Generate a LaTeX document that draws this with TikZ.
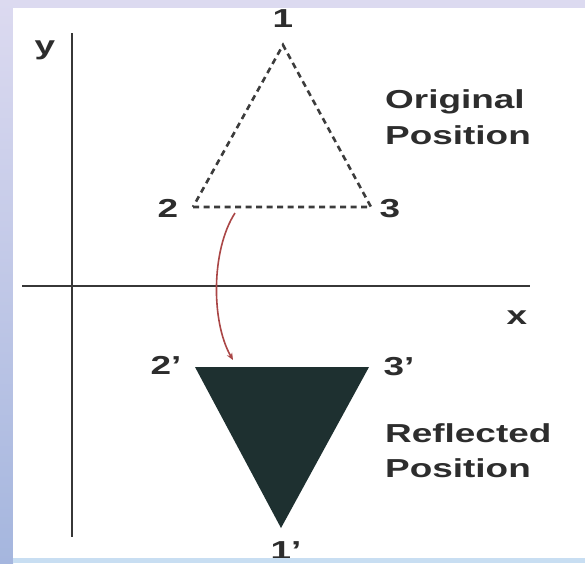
\documentclass[tikz,border=0pt]{standalone}
\usepackage{fontspec}
\setmainfont{Liberation Sans}
\usetikzlibrary{arrows.meta}
\newcommand{\stretchtxt}[1]{\scalebox{1.42}[1]{#1}}
\definecolor{labc}{RGB}{45,45,45}
\definecolor{axc}{RGB}{55,55,55}
\definecolor{dashc}{RGB}{60,60,60}
\definecolor{fillc}{RGB}{30,48,48}
\definecolor{arcc}{RGB}{170,70,70}
\definecolor{bgtop}{RGB}{220,218,240}
\definecolor{bgbot}{RGB}{165,182,222}
\definecolor{bgstrip}{RGB}{200,222,242}
\begin{document}
\begin{tikzpicture}[x=1pt,y=-1pt,
  lbl/.style={font=\bfseries\fontsize{26}{26}\selectfont, text=labc, inner sep=0pt},
  txt/.style={font=\bfseries\fontsize{26}{26}\selectfont, text=labc, inner sep=0pt, anchor=base west},
  axis/.style={draw=axc, line width=2.8pt},
  dashtri/.style={draw=dashc, line width=2.6pt, dash pattern=on 6pt off 4.5pt},
  filltri/.style={fill=fillc},
  arcline/.style={draw=arcc, line width=1.6pt, -{Stealth[length=7pt,width=6pt]}}]
% background
\useasboundingbox (0,0) rectangle (585,563);
\fill[bgtop] (0,0) rectangle (585,8);
\shade[top color=bgtop, bottom color=bgbot] (0,0) rectangle (13,563);
\fill[white] (13,8) rectangle (585,558);
% axes
\coordinate (xl) at (22,286);
\coordinate (xr) at (530,286);
\coordinate (yt) at (72,33);
\coordinate (yb) at (72,537);
\draw[axis] (xl) -- (xr);
\draw[axis] (yt) -- (yb);
\node[lbl] (ylab) at (45,50) {\stretchtxt{y}};
\node[lbl] (xlab) at (517,318) {\stretchtxt{x}};
% original triangle
\coordinate (p1) at (283,45);
\coordinate (p2) at (193,207);
\coordinate (p3) at (371,207);
\draw[dashtri] (p2) -- (p3) -- (p1) -- cycle;
\node[lbl] (l1) at (283,19) {\stretchtxt{1}};
\node[lbl] (l2) at (168,208) {\stretchtxt{2}};
\node[lbl] (l3) at (390,209) {\stretchtxt{3}};
% reflected triangle
\coordinate (q2) at (195,367);
\coordinate (q3) at (369,367);
\coordinate (q1) at (281,528);
\fill[filltri] (q2) -- (q3) -- (q1) -- cycle;
\node[lbl] (m2) at (166,365) {\stretchtxt{2'}};
\node[lbl] (m3) at (399,367) {\stretchtxt{3'}};
\node[lbl] (m1) at (286,551) {\stretchtxt{1'}};
% arc
\coordinate (as) at (235,213);
\coordinate (ae) at (233,360);
\draw[arcline] (as) .. controls (211,250) and (211,322) .. (ae);
% texts
\node[txt] (o1) at (385,108) {\stretchtxt{Original}};
\node[txt] (o2) at (385,144) {\stretchtxt{Position}};
\node[txt] (r1) at (385,442) {\stretchtxt{Reflected}};
\node[txt] (r2) at (385,477) {\stretchtxt{Position}};
% bottom strip
\fill[bgstrip] (13,558) rectangle (585,563);
\end{tikzpicture}
\end{document}
